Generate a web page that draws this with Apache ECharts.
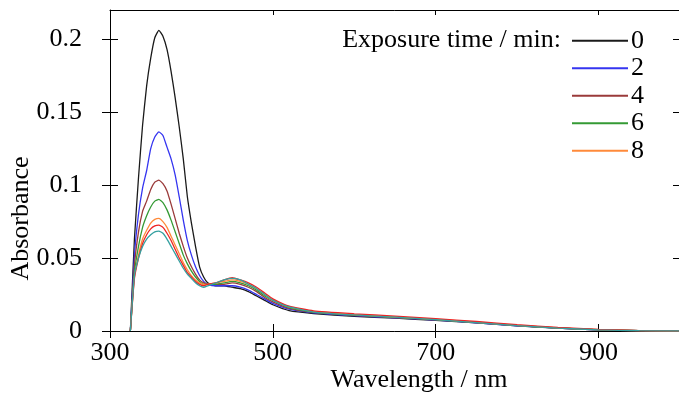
<!DOCTYPE html>
<html>
<head>
<meta charset="utf-8">
<script src="https://cdn.jsdelivr.net/npm/echarts@6/dist/echarts.min.js"></script>
<style>html,body{margin:0;padding:0;background:#fff}#c{width:679px;height:410px}</style>
</head>
<body>
<div id="c"></div>
<script>
const wavelengths = [325,330,335,340,345,350,355,360,365,370,375,380,385,390,395,400,405,410,415,420,430,440,450,460,470,480,490,500,520,550,600,650,700,750,800,850,900,950,1000];
const t0  = [0,0.063,0.105,0.141,0.168,0.187,0.201,0.206,0.202,0.193,0.178,0.160,0.140,0.118,0.092,0.074,0.058,0.044,0.037,0.033,0.031,0.031,0.030,0.029,0.027,0.024,0.021,0.018,0.014,0.012,0.010,0.0088,0.0073,0.0055,0.0035,0.002,0.0008,0.0002,0];
const t2  = [0,0.052,0.080,0.098,0.110,0.125,0.133,0.1365,0.134,0.126,0.118,0.107,0.092,0.076,0.062,0.052,0.044,0.038,0.034,0.032,0.031,0.031,0.031,0.030,0.028,0.025,0.022,0.019,0.015,0.0125,0.0105,0.009,0.0075,0.0056,0.0036,0.002,0.0008,0.0002,0];
const t4  = [0,0.045,0.068,0.082,0.089,0.097,0.102,0.1034,0.101,0.096,0.087,0.077,0.067,0.058,0.050,0.044,0.039,0.035,0.033,0.032,0.032,0.032,0.033,0.032,0.030,0.027,0.023,0.020,0.0155,0.0128,0.0108,0.0092,0.0077,0.0058,0.0037,0.002,0.0008,0.0002,0];
const t6  = [0,0.040,0.058,0.071,0.079,0.085,0.089,0.0902,0.088,0.083,0.076,0.068,0.060,0.052,0.046,0.041,0.037,0.034,0.032,0.032,0.032,0.033,0.034,0.033,0.031,0.028,0.024,0.021,0.016,0.013,0.011,0.0094,0.0078,0.0059,0.0038,0.0021,0.0009,0.0002,0];
const t8  = [0,0.037,0.052,0.063,0.069,0.074,0.0765,0.0772,0.075,0.071,0.065,0.059,0.053,0.047,0.042,0.038,0.035,0.033,0.032,0.032,0.033,0.034,0.035,0.034,0.032,0.029,0.025,0.021,0.0165,0.0133,0.0112,0.0096,0.008,0.006,0.0039,0.0022,0.0009,0.0002,0];
const t10 = [0,0.036,0.050,0.060,0.066,0.070,0.072,0.0726,0.071,0.067,0.062,0.056,0.050,0.045,0.040,0.037,0.034,0.032,0.031,0.032,0.033,0.035,0.0365,0.035,0.033,0.030,0.026,0.022,0.017,0.0138,0.0118,0.0102,0.0085,0.0065,0.0043,0.0025,0.0011,0.0003,0];
const t12 = [0,0.038,0.050,0.058,0.063,0.066,0.068,0.0685,0.067,0.063,0.058,0.053,0.048,0.043,0.039,0.036,0.033,0.031,0.030,0.031,0.033,0.035,0.036,0.035,0.032,0.029,0.025,0.021,0.0165,0.013,0.011,0.0095,0.0078,0.0058,0.0037,0.002,0.0008,0.0002,0];
const seriesNames = ['0','2','4','6','8','10','12'];
const legendNames = ['0','2','4','6','8'];
const seriesValues = [t0,t2,t4,t6,t8,t10,t12];
const colors = ['#1a1a1a','#3535f0','#9a3a3a','#349a34','#ff8a3a','#ee2424','#35a0a0'];
const xTicks = [300,500,700,900];
const yTicks = [0,0.05,0.1,0.15,0.2];

const FONT = '"Liberation Serif", "Times New Roman", serif';
const FS = 26;
const chart = echarts.init(document.getElementById('c'), null, {renderer:'canvas'});
const lineStyle = {color:'#000', width:1};
const xBase = {type:'value', min:300, max:1000, splitLine:{show:false}};
const yBase = {type:'value', min:0, max:0.22, splitLine:{show:false}};
chart.setOption({
  animation:false,
  backgroundColor:'#fff',
  grid:{left:110, width:570, top:10, height:321, containLabel:false, outerBoundsMode:'none'},
  xAxis:[
    Object.assign({}, xBase, {position:'bottom',
      axisLine:{show:true, onZero:false, lineStyle},
      axisTick:{show:true, inside:false, length:7, customValues:xTicks, lineStyle},
      axisLabel:{show:true, customValues:xTicks, margin:9, fontFamily:FONT, fontSize:FS, color:'#000'},
      name:'Wavelength / nm', nameLocation:'middle', nameGap:36, nameMoveOverlap:false,
      nameTextStyle:{fontFamily:FONT, fontSize:FS, color:'#000', padding:[0,0,0,48]}}),
    Object.assign({}, xBase, {position:'bottom',
      axisLine:{show:false, onZero:false},
      axisTick:{show:true, inside:true, length:7, customValues:xTicks, lineStyle},
      axisLabel:{show:false}}),
    Object.assign({}, xBase, {position:'top',
      axisLine:{show:true, onZero:false, lineStyle},
      axisTick:{show:true, inside:true, length:5, customValues:xTicks, lineStyle},
      axisLabel:{show:false}})
  ],
  yAxis:[
    Object.assign({}, yBase, {position:'left',
      axisLine:{show:true, onZero:false, lineStyle},
      axisTick:{show:true, inside:false, length:8, customValues:yTicks, lineStyle},
      axisLabel:{show:true, customValues:yTicks, margin:28, fontFamily:FONT, fontSize:FS, color:'#000'},
      name:'Absorbance', nameLocation:'middle', nameGap:76, nameMoveOverlap:false,
      nameTextStyle:{fontFamily:FONT, fontSize:FS, color:'#000', padding:[0,96,0,0]}}),
    Object.assign({}, yBase, {position:'left',
      axisLine:{show:false, onZero:false},
      axisTick:{show:true, inside:true, length:8, customValues:yTicks, lineStyle},
      axisLabel:{show:false}}),
    Object.assign({}, yBase, {position:'right',
      axisLine:{show:true, onZero:false, lineStyle},
      axisTick:{show:true, inside:true, length:7, customValues:yTicks, lineStyle},
      axisLabel:{show:false}})
  ],
  legend:{
    data:legendNames, orient:'vertical', left:572, top:27, padding:0,
    icon:'rect', itemWidth:56, itemHeight:2, itemGap:0,
    textStyle:{fontFamily:FONT, fontSize:FS, color:'#000', lineHeight:27.5, padding:[0,0,0,-2]}
  },
  graphic:[{type:'text', x:561, y:40,
    style:{text:'Exposure time / min:', fontFamily:FONT, fontSize:FS, fill:'#000', align:'right', verticalAlign:'middle'}}],
  series: seriesValues.map((vals,i)=>({
    name:seriesNames[i], type:'line', xAxisIndex:0, yAxisIndex:0,
    data: wavelengths.map((w,j)=>[w, vals[j]]),
    showSymbol:false, symbol:'none', smooth:0.15,
    lineStyle:{color:colors[i], width:1.3}, itemStyle:{color:colors[i]}
  }))
});
</script>
</body>
</html>
